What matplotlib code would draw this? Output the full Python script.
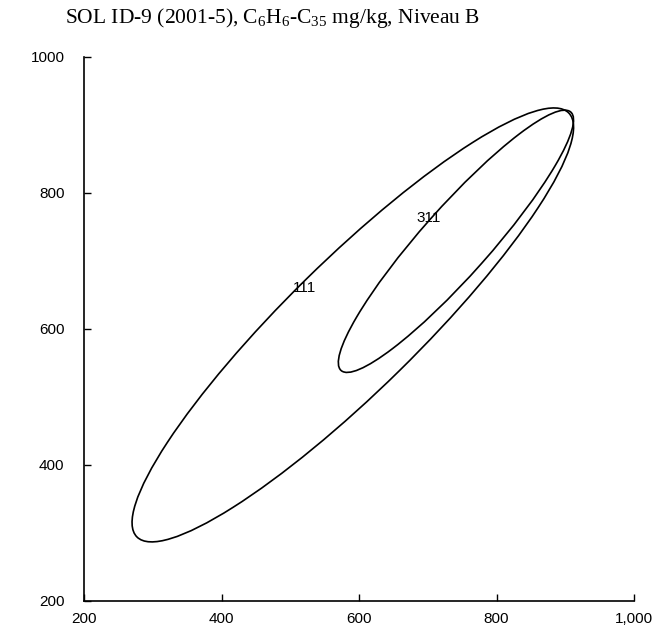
import matplotlib
matplotlib.use("Agg")
import matplotlib.pyplot as plt
from matplotlib.patches import Ellipse
from matplotlib.ticker import FuncFormatter

plt.rcParams["mathtext.fontset"] = "custom"
plt.rcParams["mathtext.rm"] = "Liberation Serif"
plt.rcParams["mathtext.it"] = "Liberation Serif:italic"

# contour ellipses
levels = ["111", "311"]
center_x = [591, 741]
center_y = [606, 729]
ell_width = [885, 506]
ell_height = [191, 99]
ell_angle = [44.8, 48.7]
label_x = [521, 702]
label_y = [660, 763]

x_ticks = [200, 400, 600, 800, 1000]
y_ticks = [200, 400, 600, 800, 1000]

fig = plt.figure(figsize=(6.54, 6.32), dpi=100)
ax = fig.add_axes([84 / 654, 1 - 601 / 632, (634 - 84) / 654, (601 - 57) / 632])

for i in range(len(levels)):
    e = Ellipse(
        (center_x[i], center_y[i]),
        width=ell_width[i],
        height=ell_height[i],
        angle=ell_angle[i],
        fill=False,
        edgecolor="black",
        linewidth=1.2,
    )
    ax.add_patch(e)
    ax.text(
        label_x[i],
        label_y[i],
        levels[i],
        ha="center",
        va="center",
        fontsize=11,
        family="Liberation Sans",
    )

ax.set_xlim(200, 1000)
ax.set_ylim(200, 1000)
ax.set_xticks(x_ticks)
ax.set_yticks(y_ticks)
ax.xaxis.set_major_formatter(FuncFormatter(lambda v, p: f"{v:,.0f}"))
ax.yaxis.set_major_formatter(FuncFormatter(lambda v, p: f"{v:.0f}"))

for lab in ax.get_xticklabels() + ax.get_yticklabels():
    lab.set_family("Liberation Sans")
ax.tick_params(axis="both", direction="in", length=5, width=1, labelsize=11)
ax.tick_params(axis="x", pad=8)
ax.tick_params(axis="y", pad=14)

ax.spines["right"].set_visible(False)
ax.spines["top"].set_visible(False)
ax.spines["left"].set_linewidth(1.2)
ax.spines["bottom"].set_linewidth(1.2)

fig.text(
    65 / 654,
    1 - 18 / 632,
    r"SOL ID-9 (2001-5), C$_\mathrm{6}$H$_\mathrm{6}$-C$_\mathrm{35}$ mg/kg, Niveau B",
    ha="left",
    va="center",
    fontsize=15.5,
    family="Liberation Serif",
)

fig.savefig("out.png", dpi=100)
